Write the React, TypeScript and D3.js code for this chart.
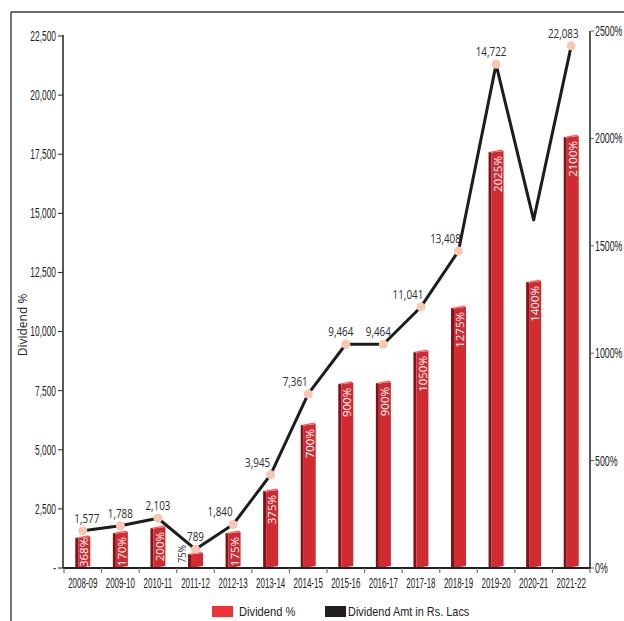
import React from 'react'
import * as d3 from 'd3'

// years on the x axis
const categories = [
  '2008-09', '2009-10', '2010-11', '2011-12', '2012-13', '2013-14', '2014-15',
  '2015-16', '2016-17', '2017-18', '2018-19', '2019-20', '2020-21', '2021-22',
]

// dividend amount (line, left axis) as plotted
const amountValues = [1577, 1788, 2103, 789, 1840, 3945, 7361, 9464, 9464, 11041, 13408, 21300, 14722, 22083]
// the labels printed next to the points (they do not always match the plotted point)
const amountLabels = ['1,577', '1,788', '2,103', '789', '1,840', '3,945', '7,361', '9,464', '9,464', '11,041', '13,408', '14,722', '', '22,083']

// dividend % bar heights read against the right axis
const dividendPct = [145, 168, 191, 70, 168, 363, 670, 862, 866, 1010, 1215, 1941, 1336, 2011]
const dividendLabels = ['368%', '170%', '200%', '75%', '175%', '375%', '700%', '900%', '900%', '1050%', '1275%', '2025%', '1400%', '2100%']

const leftTicks = [0, 2500, 5000, 7500, 10000, 12500, 15000, 17500, 20000, 22500]
const rightTicks = [0, 500, 1000, 1500, 2000, 2500]

const W = 624
const H = 621
const NARROW = "'Liberation Sans', Arial, sans-serif"
const HUMAN = "'Open Sans', 'Noto Sans', sans-serif"

const SText: React.FC<{
  x: number; y: number; s?: number; anchor?: string; size: number; family?: string; fill?: string; rotate?: number; dy?: string
  children: React.ReactNode
}> = ({ x, y, s = 1, anchor = 'start', size, family = NARROW, fill = '#222', rotate = 0, dy, children }) => (
  <text
    transform={`translate(${x},${y}) rotate(${rotate}) scale(${s},1)`}
    textAnchor={anchor}
    fontSize={size}
    fontFamily={family}
    fill={fill}
    dy={dy}
  >
    {children}
  </text>
)

export default function App() {
  const x = d3.scaleBand<string>().domain(categories).range([64, 590]).padding(0)
  const yL = d3.scaleLinear().domain([0, 22500]).range([568, 36])
  const yR = d3.scaleLinear().domain([0, 2500]).range([568, 31])
  const cx = (i: number) => (x(categories[i]) || 0) + x.bandwidth() / 2

  const line = d3
    .line<number>()
    .x((_, i) => cx(i))
    .y((d) => yL(d))

  const fmtLeft = (v: number) => (v === 0 ? '-' : d3.format(',')(v))
  const base = yR(0)

  const labelLen = (s: string) => s.replace('%', '').length * 6.6 + (s.includes('%') ? 9.4 : 0)

  // shift a point label left when the line climbs steeply next to it
  const labelDx = (i: number) => {
    const n = amountValues.length
    if (i === n - 1) return -8
    const nextRise = yL(amountValues[i]) - yL(amountValues[i + 1])
    const prevRise = i > 0 ? yL(amountValues[i - 1]) - yL(amountValues[i]) : 0
    if (nextRise > 45) return -13
    if (nextRise > 30 || prevRise > 45) return -5
    if (i === 0) return 4
    return 0
  }

  return (
    <svg width={W} height={H} style={{ position: 'absolute', left: 0, top: 0, background: '#fff' }}>
      {/* frame */}
      <line x1={11} y1={12} x2={11} y2={H} stroke="#3a3a3a" strokeWidth={1.4} />
      <line x1={11} y1={12} x2={W} y2={12} stroke="#3a3a3a" strokeWidth={1.4} />

      {/* left axis */}
      <line x1={63} x2={63} y1={yL(22500) - 1} y2={base} stroke="#222" strokeWidth={1.5} />
      {leftTicks.map((t) => (
        <g key={t}>
          <line x1={58} x2={63} y1={yL(t)} y2={yL(t)} stroke="#222" strokeWidth={1} />
          <SText x={56} y={yL(t)} s={0.6} anchor="end" size={14} dy="0.35em">
            {fmtLeft(t)}
          </SText>
        </g>
      ))}
      <SText x={27} y={325} rotate={-90} anchor="middle" size={12} family={HUMAN}>
        Dividend %
      </SText>

      {/* right axis */}
      <line x1={590} x2={590} y1={yR(2500)} y2={base} stroke="#222" strokeWidth={1.5} />
      {rightTicks.map((t) => (
        <g key={t}>
          <line x1={591} x2={594} y1={yR(t)} y2={yR(t)} stroke="#666" strokeWidth={1} />
          <SText x={595} y={yR(t)} s={0.63} anchor="start" size={14} dy="0.35em">
            {`${t}%`}
          </SText>
        </g>
      ))}

      {/* bars */}
      {dividendPct.map((v, i) => {
        const c = cx(i)
        const top = yR(v)
        const L = c - 4.5
        const R = c + 7.5
        const lbl = dividendLabels[i]
        const len = labelLen(lbl)
        const fits = base - top > len - 2
        const yEnd = Math.min(top + 5, base - 1 - len)
        return (
          <g key={categories[i]}>
            <polygon points={`${L - 3},${top + 1} ${L},${top + 1.5} ${L},${base} ${L - 3},${base - 0.5}`} fill="#7d1418" />
            <polygon points={`${L},${top + 1.5} ${R},${top} ${R},${base - 2} ${L},${base}`} fill="#d12a30" />
            <polygon points={`${L - 3},${top + 1} ${R - 2},${top - 1.5} ${R},${top} ${L},${top + 1.5}`} fill="#e8696c" />
            {fits ? (
              <SText x={c + 1.5} y={yEnd} rotate={-90} anchor="end" size={11.5} family={HUMAN} fill="#fff" dy="0.36em">
                {lbl}
              </SText>
            ) : (
              <SText x={c - 14} y={base - 5} rotate={-90} s={0.8} anchor="start" size={11.5} family={HUMAN} fill="#333" dy="0.36em">
                {lbl}
              </SText>
            )}
          </g>
        )
      })}

      {/* bottom axis */}
      <line x1={63} x2={591} y1={base} y2={base} stroke="#222" strokeWidth={2} />
      {d3.range(categories.length + 1).map((k) => {
        const xx = 64 + k * x.step()
        return <line key={k} x1={xx} x2={xx} y1={base} y2={base + 5} stroke="#777" strokeWidth={1.2} />
      })}
      {categories.map((c, i) => (
        <SText key={c} x={cx(i)} y={588} s={0.57} anchor="middle" size={14}>
          {c}
        </SText>
      ))}

      {/* line */}
      <path d={line(amountValues) || ''} fill="none" stroke="#1d1d1d" strokeWidth={3} strokeLinejoin="round" />
      {amountValues.map((v, i) =>
        amountLabels[i] ? <circle key={i} cx={cx(i)} cy={yL(v)} r={4.5} fill="#f8c7b2" /> : null,
      )}
      {amountValues.map((v, i) => {
        if (!amountLabels[i]) return null
        return (
          <SText key={i} x={cx(i) + labelDx(i)} y={yL(v) - 8} s={0.82} anchor="middle" size={12} family={HUMAN} fill="#2b2b2b">
            {amountLabels[i]}
          </SText>
        )
      })}

      {/* legend */}
      <rect x={212} y={606} width={21} height={11} fill="#ee3237" />
      <SText x={239} y={616} s={0.86} size={13}>
        Dividend %
      </SText>
      <rect x={325} y={606} width={21} height={11} fill="#231f20" />
      <SText x={348} y={616} s={0.84} size={13}>
        Dividend Amt in Rs. Lacs
      </SText>
    </svg>
  )
}
